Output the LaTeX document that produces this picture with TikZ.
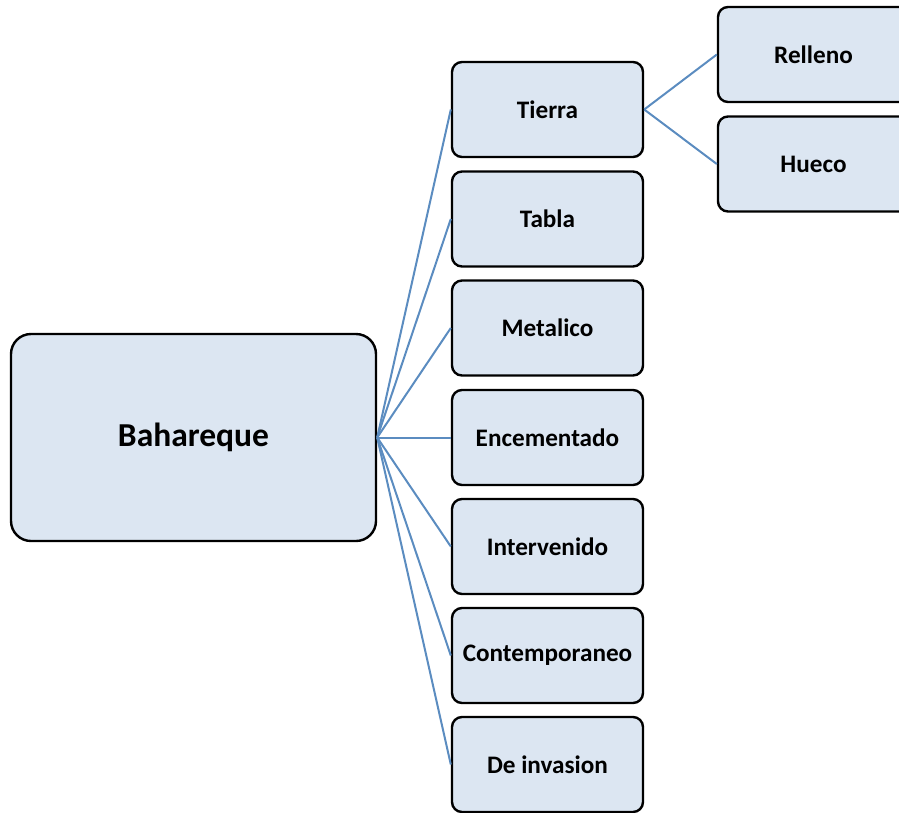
\documentclass[tikz,border=0pt]{standalone}
\usepackage{fontspec}
\setmainfont{Carlito}
\definecolor{boxfill}{HTML}{DCE6F2}
\definecolor{linkblue}{HTML}{5B8CC0}
\begin{document}
\begin{tikzpicture}[x=1pt,y=-1pt,
  box/.style={draw=black,line width=2.4pt,fill=boxfill,rounded corners=10pt,
    minimum width=191pt,minimum height=95pt,inner sep=0pt,
    font=\fontsize{25.2}{29}\selectfont\bfseries},
  bigbox/.style={box,rounded corners=20pt,minimum width=365pt,minimum height=207pt,
    font=\fontsize{33.5}{38}\selectfont\bfseries},
  link/.style={draw=linkblue,line width=2pt}]
\useasboundingbox (0,0) rectangle (899,812);
\clip (0,0) rectangle (899,812);
\node[bigbox] (bah) at (193.5,437.5) {Bahareque};
\node[box] (tierra) at (547.5,109.5) {Tierra};
\node[box] (tabla) at (547.5,219) {Tabla};
\node[box] (metal) at (547.5,328) {Metalico};
\node[box] (encem) at (547.5,437.5) {Encementado};
\node[box] (interv) at (547.5,546.5) {Intervenido};
\node[box] (contemp) at (547.5,655.5) {Contemporaneo};
\node[box] (inv) at (547.5,764.5) {De invasion};
\node[box] (relleno) at (813.5,54.5) {Relleno};
\node[box] (hueco) at (813.5,164) {Hueco};
\foreach \n in {tierra,tabla,metal,encem,interv,contemp,inv}
  \draw[link] (bah.east) -- (\n.west);
\draw[link] (tierra.east) -- (relleno.west);
\draw[link] (tierra.east) -- (hueco.west);
\end{tikzpicture}
\end{document}
